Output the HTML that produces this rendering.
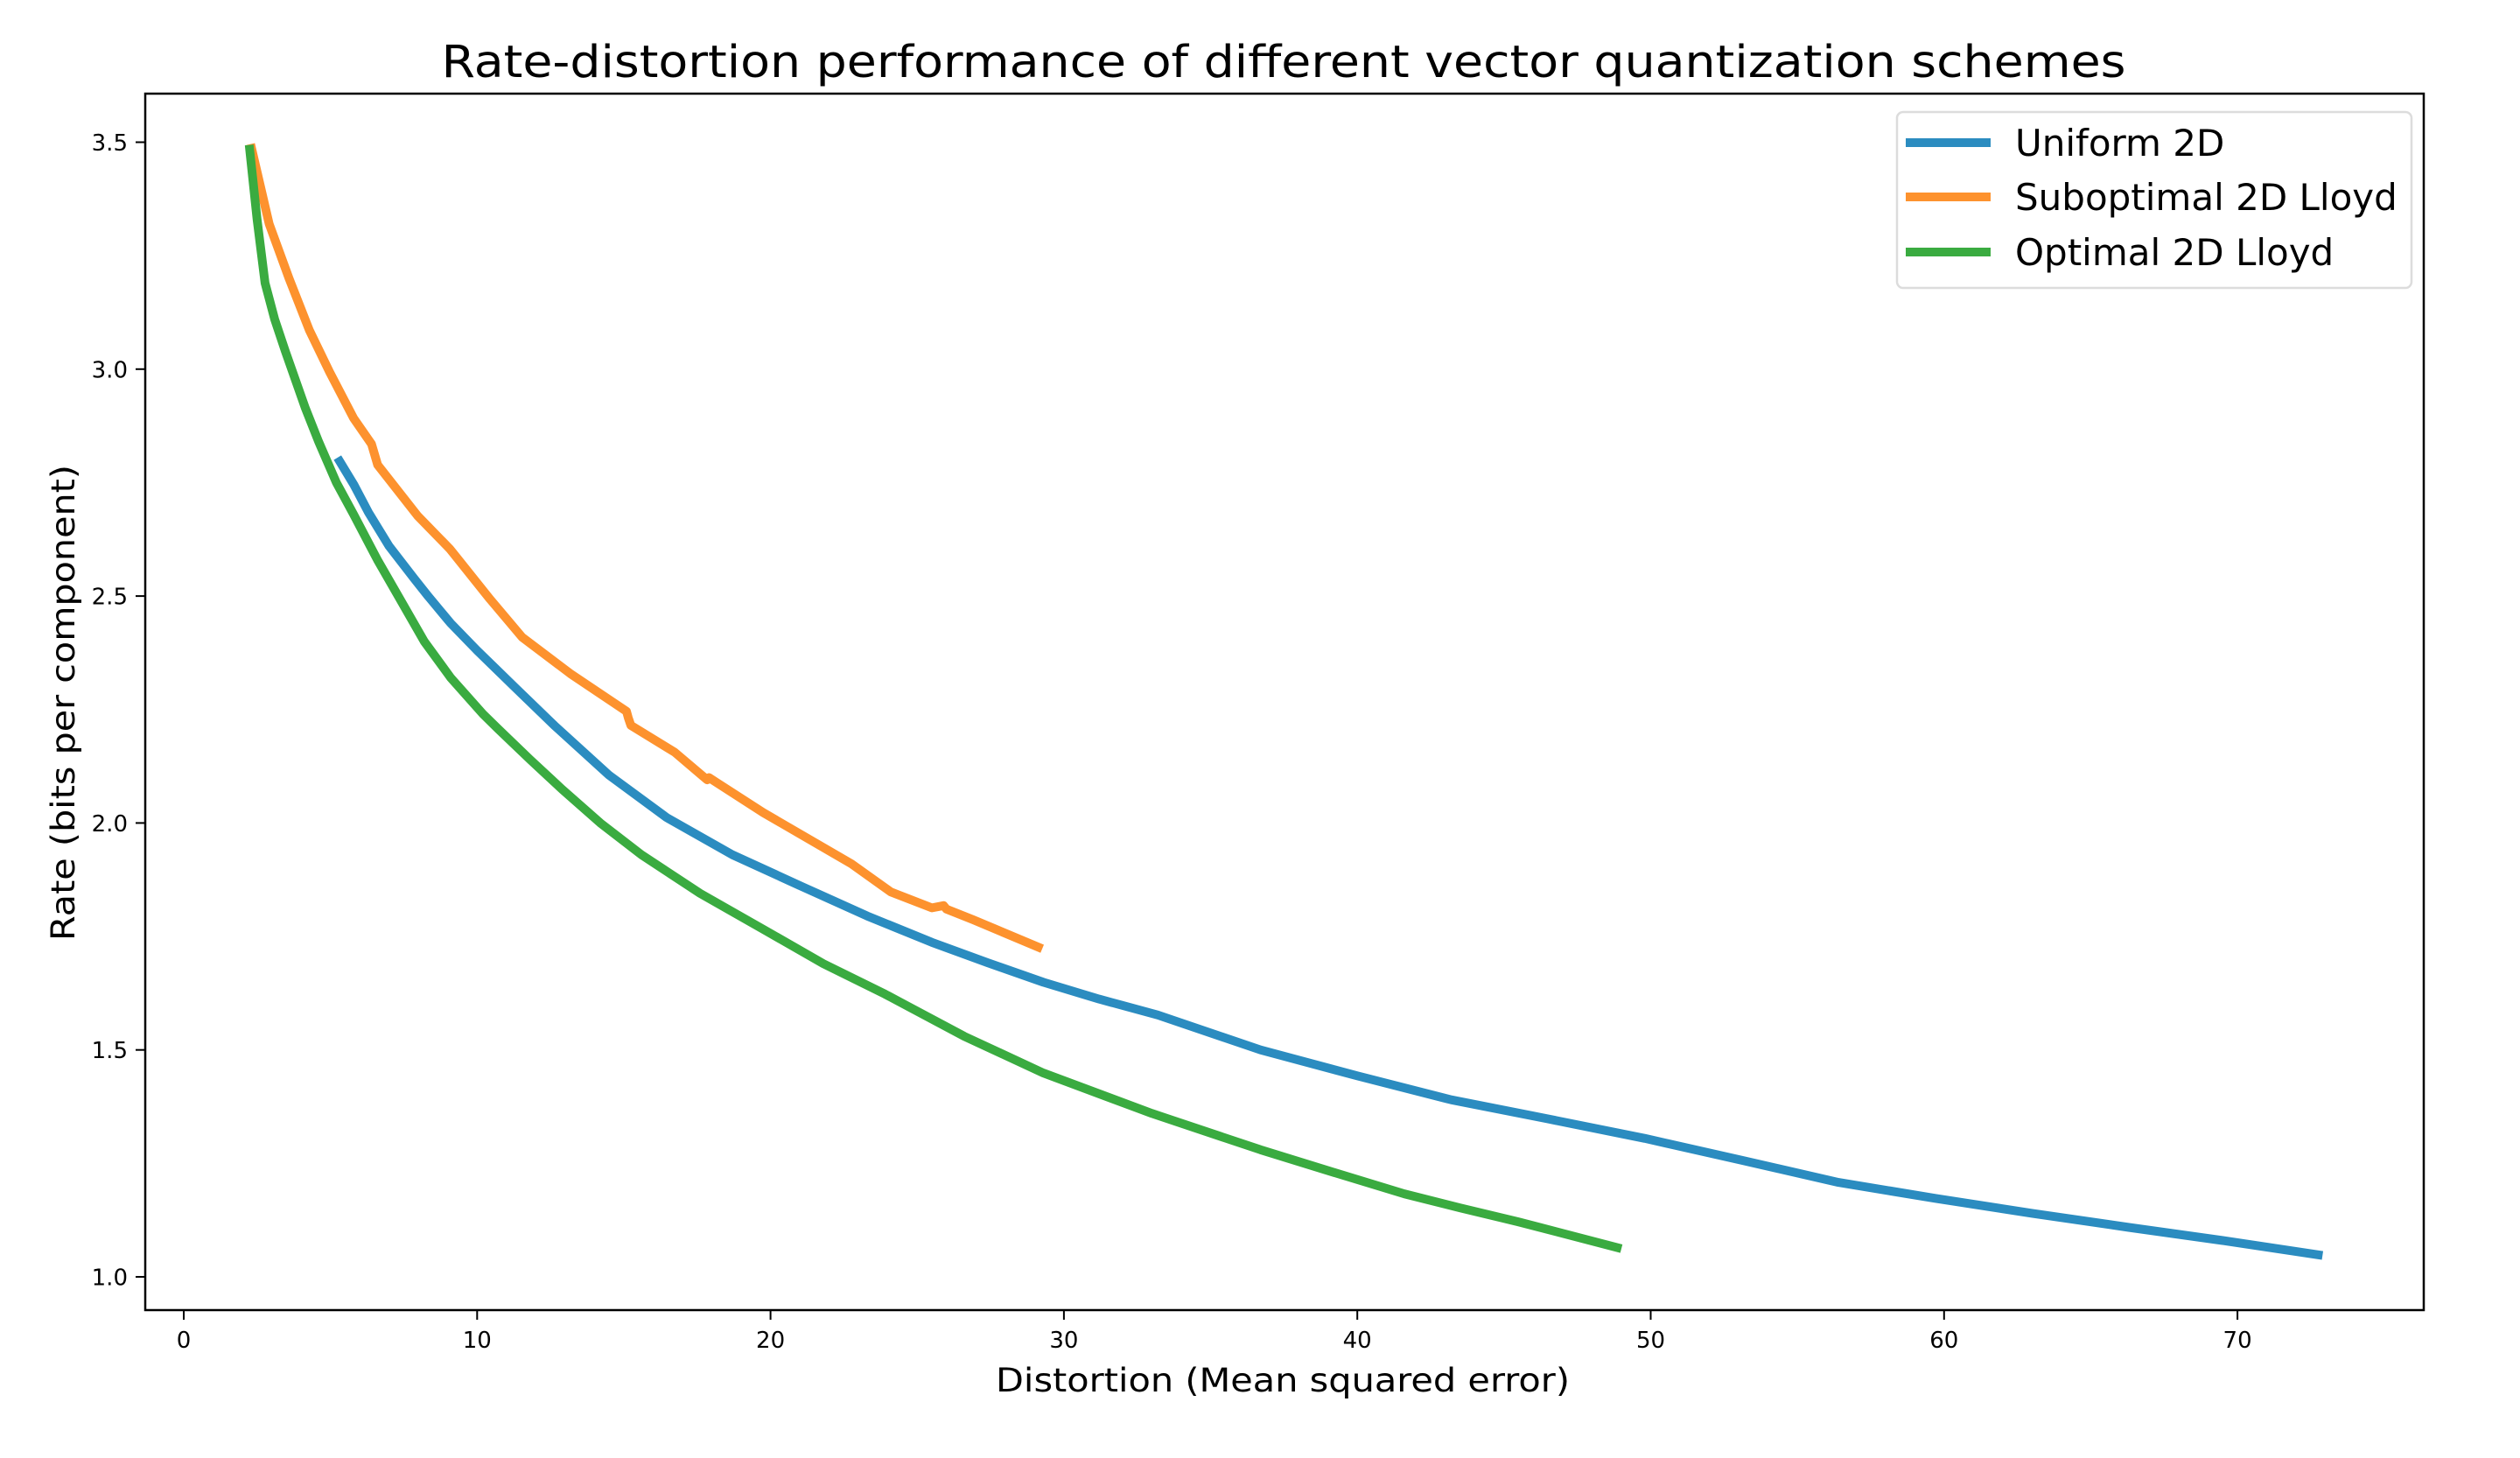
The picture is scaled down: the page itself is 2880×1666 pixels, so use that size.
<!DOCTYPE html>
<html><head><meta charset="utf-8"><style>
html,body{margin:0;padding:0;background:#fff;}
svg{display:block;}
text{font-family:"DejaVu Sans","Liberation Sans",sans-serif;fill:#000;}
</style></head><body>
<svg id="chart" width="2880" height="1666" viewBox="0 0 2880 1666" xmlns="http://www.w3.org/2000/svg">
<rect x="0" y="0" width="2880" height="1666" fill="#fff"/>
<text x="1467" y="88" font-size="51" text-anchor="middle" textLength="1925" lengthAdjust="spacingAndGlyphs">Rate-distortion performance of different vector quantization schemes</text>
<g id="plot"></g>
<rect x="166" y="107" width="2604" height="1390" fill="none" stroke="#000" stroke-width="2.5"/>
<g id="ticks"></g>
<text x="1138" y="1590" font-size="37" textLength="656" lengthAdjust="spacingAndGlyphs">Distortion (Mean squared error)</text>
<text transform="translate(85,803) rotate(-90)" x="0" y="0" font-size="37" text-anchor="middle" textLength="544" lengthAdjust="spacingAndGlyphs">Rate (bits per component)</text>
<g id="legend">
<rect x="2168" y="128" width="588" height="201" rx="7" fill="#fff" fill-opacity="0.8" stroke="#dcdcdc" stroke-width="2.5"/>
</g>
</svg>
<script>
const xTicks = [0,10,20,30,40,50,60,70];
const yTicks = [1.0,1.5,2.0,2.5,3.0,3.5];
const seriesNames = ["Uniform 2D","Suboptimal 2D Lloyd","Optimal 2D Lloyd"];
const seriesColors = ["#2b8cc0","#fd922e","#3aab40"];
const uniformD = [5.24,5.8,6.3,7.0,7.85,8.34,9.1,10.0,11.27,12.63,14.5,16.46,18.7,21.1,23.3,25.5,27.4,29.3,31.2,33.2,36.7,40.0,43.2,46.5,49.8,53.1,56.4,59.7,63.0,66.3,69.5,72.9];
const uniformR = [2.805,2.745,2.684,2.61,2.539,2.499,2.44,2.38,2.30,2.215,2.105,2.012,1.93,1.859,1.795,1.737,1.692,1.649,1.612,1.577,1.500,1.443,1.390,1.348,1.305,1.257,1.208,1.173,1.140,1.109,1.080,1.047];
const subD = [2.28,2.91,3.60,4.28,4.97,5.79,6.40,6.61,7.98,9.07,10.44,11.54,13.18,15.09,15.15,15.24,16.73,17.84,17.9,19.75,22.76,24.1,25.5,25.9,26.0,26.9,29.26];
const subR = [3.496,3.32,3.198,3.086,2.994,2.892,2.835,2.789,2.676,2.604,2.493,2.409,2.329,2.246,2.232,2.215,2.156,2.095,2.100,2.023,1.910,1.848,1.813,1.818,1.810,1.787,1.723];
const optD = [2.23,2.5,2.77,3.1,3.46,4.14,4.6,5.2,5.79,6.6,7.4,8.2,9.1,10.2,10.72,11.8,12.9,14.2,15.6,17.6,19.75,21.8,23.9,26.6,29.3,33.0,36.7,39.2,41.6,43.5,45.5,49.0];
const optR = [3.494,3.33,3.19,3.11,3.04,2.915,2.84,2.75,2.68,2.58,2.49,2.40,2.32,2.24,2.207,2.14,2.074,2.00,1.930,1.845,1.766,1.69,1.623,1.53,1.449,1.36,1.280,1.23,1.183,1.152,1.121,1.062];

const NS = "http://www.w3.org/2000/svg";
const X = d => 210 + 33.53 * d;
const Y = r => 1459 - 518.6 * (r - 1);
const plot = document.getElementById('plot');
const ticks = document.getElementById('ticks');
const legend = document.getElementById('legend');

function mk(tag, attrs){ const e=document.createElementNS(NS,tag); for(const k in attrs) e.setAttribute(k,attrs[k]); return e; }

const series = [[uniformD,uniformR],[subD,subR],[optD,optR]];
const lineNames = ['uniform-2d-line','suboptimal-lloyd-line','optimal-lloyd-line'];
series.forEach((s,i)=>{
  const pts = s[0].map((d,j)=>X(d).toFixed(1)+','+Y(s[1][j]).toFixed(1)).join(' ');
  const pl = mk('polyline',{points:pts,fill:'none',stroke:seriesColors[i],'stroke-width':10,'stroke-linejoin':'round','stroke-linecap':'butt'});
  
  
  plot.appendChild(pl);
});

xTicks.forEach(t=>{
  const l = mk('line',{x1:X(t),x2:X(t),y1:1497,y2:1508,stroke:'#000','stroke-width':2});
  
  
  ticks.appendChild(l);
  const tx = mk('text',{x:X(t),y:1540,'font-size':26,'text-anchor':'middle'});
  
  
  tx.textContent = String(t);
  ticks.appendChild(tx);
});
yTicks.forEach(t=>{
  const l = mk('line',{x1:155,x2:166,y1:Y(t),y2:Y(t),stroke:'#000','stroke-width':2});
  
  
  ticks.appendChild(l);
  const tx = mk('text',{x:146,y:Y(t)+9.5,'font-size':26,'text-anchor':'end'});
  
  
  tx.textContent = t.toFixed(1);
  ticks.appendChild(tx);
});

const legY = [163,225,288];
seriesNames.forEach((n,i)=>{
  const l = mk('line',{x1:2178,x2:2275,y1:legY[i],y2:legY[i],stroke:seriesColors[i],'stroke-width':10});
  
  
  legend.appendChild(l);
  const tx = mk('text',{x:2303,y:legY[i]+15,'font-size':42});
  
  
  tx.textContent = n;
  legend.appendChild(tx);
});
</script>
</body></html>
